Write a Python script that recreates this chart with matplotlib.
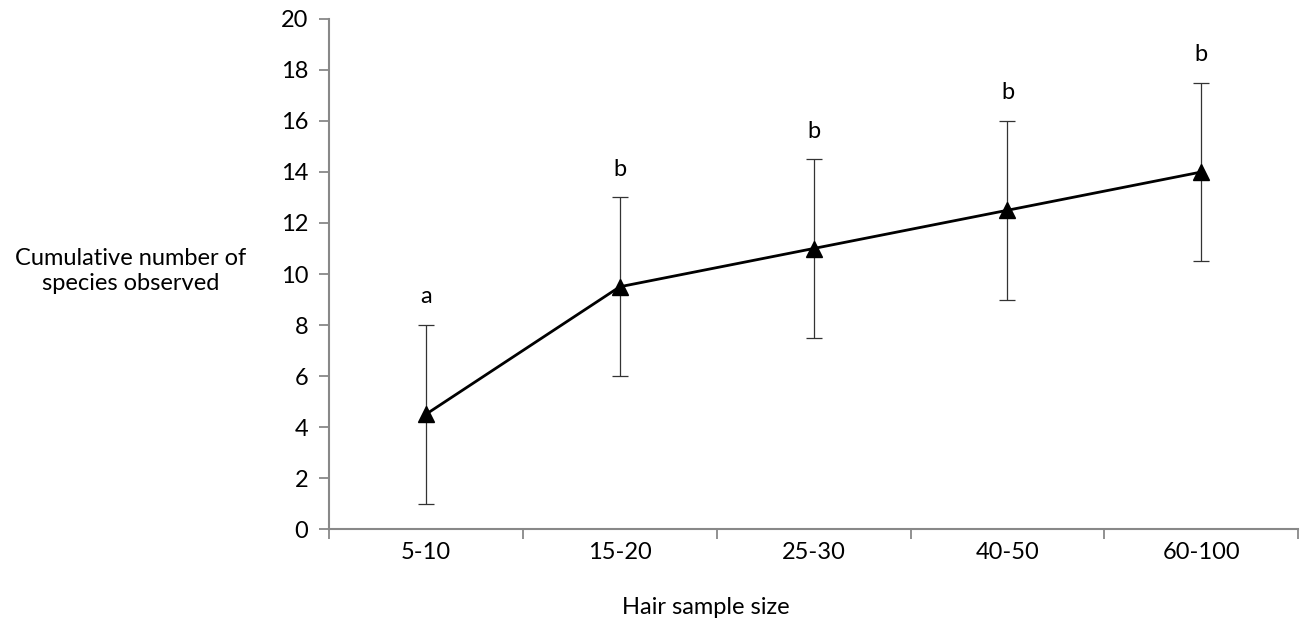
import numpy as np
import matplotlib.pyplot as plt

plt.rcParams['font.family'] = ['Lato', 'DejaVu Sans']

categories = ['5-10', '15-20', '25-30', '40-50', '60-100']
means = [4.5, 9.5, 11, 12.5, 14]
err = [3.5, 3.5, 3.5, 3.5, 3.5]
letters = ['a', 'b', 'b', 'b', 'b']

fig = plt.figure(figsize=(13.01, 6.39), dpi=100)
ax = fig.add_axes([0.2529, 0.1721, 0.745, 0.7982])

fs = 17
x = np.arange(len(categories))
ax.errorbar(x, means, yerr=err, fmt='none', ecolor='#333333', elinewidth=0.9,
            capsize=6, capthick=0.9)
ax.plot(x, means, color='black', lw=2, marker='^', markersize=12, zorder=3)
for xi, m, e, t in zip(x, means, err, letters):
    ax.text(xi, m + e + 1.1, t, ha='center', va='center', fontsize=fs)

ax.set_xlim(-0.5, len(categories) - 0.5)
ax.set_ylim(0, 20)
ax.set_yticks(range(0, 21, 2))
ax.set_xticks(np.arange(-0.5, len(categories), 1))
ax.set_xticklabels([])
ax.set_xticks(x, minor=True)
ax.set_xticklabels(categories, minor=True)
ax.tick_params(axis='x', which='minor', length=0, pad=9, labelsize=fs)
ax.tick_params(axis='x', which='major', length=7, width=1.3, color='#888888')
ax.tick_params(axis='y', length=7, width=1.3, color='#888888', labelsize=fs, pad=8)

for s in ['top', 'right']:
    ax.spines[s].set_visible(False)
for s in ['left', 'bottom']:
    ax.spines[s].set_color('#888888')
    ax.spines[s].set_linewidth(1.5)

fig.text(131 / 1301, 1 - 271 / 639, 'Cumulative number of\nspecies observed',
         ha='center', va='center', fontsize=fs, linespacing=1.25)
fig.text(706 / 1301, 1 - 608 / 639, 'Hair sample size', ha='center', va='center',
         fontsize=fs)

fig.savefig('out.png', dpi=100)
